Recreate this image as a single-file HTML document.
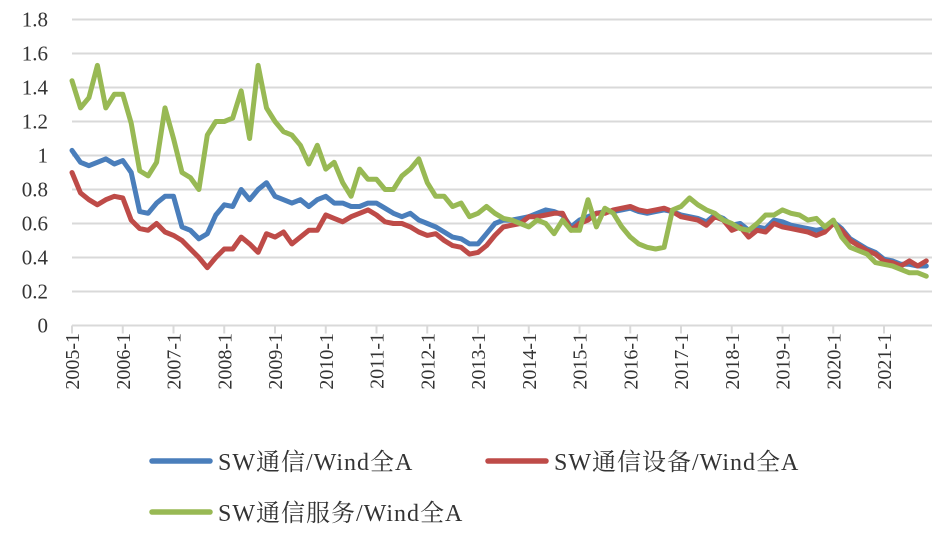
<!DOCTYPE html>
<html><head><meta charset="utf-8"><style>
body{margin:0;background:#fff;width:939px;height:537px;overflow:hidden}
svg text{font-family:"Liberation Serif","Noto Serif CJK SC",serif;fill:#333}
</style></head><body>
<svg id="chart" width="939" height="537" viewBox="0 0 939 537" xmlns="http://www.w3.org/2000/svg">
<g id="grid"></g>
<g id="yaxis"></g>
<g id="xaxis"></g>
<g id="series"></g>
<g>
<g>
<line x1="152" y1="461" x2="210" y2="461" stroke="#4A7EBB" stroke-width="5.5" stroke-linecap="round"/>
<text x="218" y="470" font-size="24" letter-spacing="1">SW通信/Wind全A</text></g>
<g>
<line x1="488" y1="461" x2="546" y2="461" stroke="#BE4B48" stroke-width="5.5" stroke-linecap="round"/>
<text x="554" y="470" font-size="24" letter-spacing="1">SW通信设备/Wind全A</text></g>
<g>
<line x1="152" y1="512" x2="210" y2="512" stroke="#98B954" stroke-width="5.5" stroke-linecap="round"/>
<text x="218" y="521" font-size="24" letter-spacing="1">SW通信服务/Wind全A</text></g>
</g>
</svg>
<script>
// bi-monthly observations from 2005-01
const yTicks = [0,0.2,0.4,0.6,0.8,1,1.2,1.4,1.6,1.8];
const yTickLabels = ["0","0.2","0.4","0.6","0.8","1","1.2","1.4","1.6","1.8"];
const xTickLabels = ["2005-1","2006-1","2007-1","2008-1","2009-1","2010-1","2011-1","2012-1","2013-1","2014-1","2015-1","2016-1","2017-1","2018-1","2019-1","2020-1","2021-1"];
const seriesTelecom = [1.03,0.96,0.94,0.96,0.98,0.95,0.97,0.90,0.67,0.66,0.72,0.76,0.76,0.58,0.56,0.51,0.54,0.65,0.71,0.70,0.80,0.74,0.80,0.84,0.76,0.74,0.72,0.74,0.70,0.74,0.76,0.72,0.72,0.70,0.70,0.72,0.72,0.69,0.66,0.64,0.66,0.62,0.60,0.58,0.55,0.52,0.51,0.48,
0.48,0.54,0.60,0.62,0.62,0.63,0.64,0.66,0.68,0.67,0.65,0.58,0.62,0.64,0.66,0.67,0.67,0.68,0.69,0.67,0.66,0.67,0.68,0.67,0.65,0.64,0.63,0.61,0.65,0.63,0.59,0.60,0.56,0.58,0.57,0.62,0.61,0.59,0.58,0.57,0.56,0.57,0.61,0.57,0.51,0.48,0.45,0.43,0.39,0.38,0.36,0.36,0.35,0.35];
const seriesEquipment = [0.90,0.78,0.74,0.71,0.74,0.76,0.75,0.62,0.57,0.56,0.60,0.55,0.53,0.50,0.45,0.40,0.34,0.40,0.45,0.45,0.52,0.48,0.43,0.54,0.52,0.55,0.48,0.52,0.56,0.56,0.65,0.63,0.61,0.64,0.66,0.68,0.65,0.61,0.60,0.60,0.58,0.55,0.53,0.54,0.50,0.47,0.46,0.42,
0.43,0.47,0.53,0.58,0.59,0.60,0.64,0.64,0.65,0.66,0.66,0.56,0.60,0.62,0.66,0.66,0.68,0.69,0.70,0.68,0.67,0.68,0.69,0.67,0.64,0.63,0.62,0.59,0.64,0.62,0.56,0.58,0.52,0.56,0.55,0.60,0.58,0.57,0.56,0.55,0.53,0.55,0.60,0.56,0.50,0.47,0.44,0.42,0.38,0.37,0.35,0.38,0.35,0.38];
const seriesServices = [1.44,1.28,1.34,1.53,1.28,1.36,1.36,1.19,0.91,0.88,0.96,1.28,1.10,0.90,0.87,0.80,1.12,1.20,1.20,1.22,1.38,1.10,1.53,1.28,1.20,1.14,1.12,1.06,0.95,1.06,0.92,0.96,0.84,0.76,0.92,0.86,0.86,0.80,0.80,0.88,0.92,0.98,0.84,0.76,0.76,0.70,0.72,0.64,
0.66,0.70,0.66,0.63,0.62,0.60,0.58,0.62,0.60,0.54,0.62,0.56,0.56,0.74,0.58,0.69,0.66,0.58,0.52,0.48,0.46,0.45,0.46,0.68,0.70,0.75,0.71,0.68,0.66,0.62,0.60,0.57,0.56,0.60,0.65,0.65,0.68,0.66,0.65,0.62,0.63,0.58,0.62,0.52,0.46,0.44,0.42,0.37,0.36,0.35,0.33,0.31,0.31,0.29];

const NS="http://www.w3.org/2000/svg";
const x0=72, yearW=50.75, y0=325.5, unitH=170;
function xScale(i){return x0+i*yearW/6;}
function xYear(k){return x0+k*yearW;}
function yScale(v){return y0-v*unitH;}
function mk(tag,attrs,parent){const e=document.createElementNS(NS,tag);for(const k in attrs)e.setAttribute(k,attrs[k]);parent.appendChild(e);return e;}

const grid=document.getElementById('grid'), ya=document.getElementById('yaxis'), xa=document.getElementById('xaxis'), ser=document.getElementById('series');
yTicks.forEach((v,i)=>{
  if(v>0){const g=mk('line',{x1:x0,x2:932,y1:yScale(v),y2:yScale(v),stroke:'#d9d9d9','stroke-width':2},grid);
  
  }
  const t=mk('text',{x:48,y:yScale(v)+7,'text-anchor':'end','font-size':21},ya);
  t.textContent=yTickLabels[i];
  
  
});
const ax=mk('line',{x1:x0,x2:932,y1:y0,y2:y0,stroke:'#d9d9d9','stroke-width':2},xa);


xTickLabels.forEach((lab,k)=>{
  const x=xYear(k);
  const tk=mk('line',{x1:x,x2:x,y1:y0,y2:y0+8,stroke:'#d9d9d9','stroke-width':2},xa);
  
  
  const t=mk('text',{x:0,y:0,'text-anchor':'end','font-size':20,transform:`translate(${x+7},333) rotate(-90)`},xa);
  t.textContent=lab;
  
  
});
function draw(arr,color,name){
  const d=arr.map((v,i)=>(i?'L':'M')+xScale(i).toFixed(1)+','+yScale(v).toFixed(1)).join('');
  const p=mk('path',{d:d,fill:'none',stroke:color,'stroke-width':5,'stroke-linejoin':'round','stroke-linecap':'round'},ser);
  
  
}
draw(seriesTelecom,'#4A7EBB','line-sw-telecom');
draw(seriesEquipment,'#BE4B48','line-sw-telecom-equipment');
draw(seriesServices,'#98B954','line-sw-telecom-services');
</script>
</body></html>
